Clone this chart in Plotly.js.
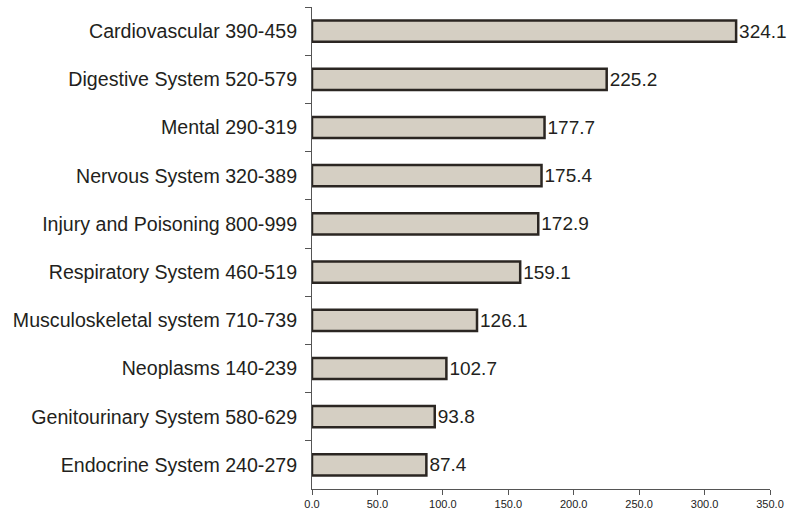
<!DOCTYPE html>
<html><head><meta charset="utf-8">
<script src="https://cdn.plot.ly/plotly-3.0.1.min.js"></script>
<style>html,body{margin:0;padding:0;background:#fff}#chart{width:789px;height:519px}</style>
</head><body><div id="chart"></div>
<script>
var categories = [
  "Cardiovascular 390-459",
  "Digestive System 520-579",
  "Mental 290-319",
  "Nervous System 320-389",
  "Injury and Poisoning 800-999",
  "Respiratory System 460-519",
  "Musculoskeletal system 710-739",
  "Neoplasms 140-239",
  "Genitourinary System 580-629",
  "Endocrine System 240-279"
];
var values = [324.1, 225.2, 177.7, 175.4, 172.9, 159.1, 126.1, 102.7, 93.8, 87.4];
var xTicks = [0, 50, 100, 150, 200, 250, 300, 350];

var trace = {
  type: "bar",
  orientation: "h",
  y: categories,
  x: values,
  width: 0.44,
  marker: {color: "#d5cfc3", line: {color: "#2b2622", width: 2.5}},
  text: values.map(function(v){return v.toFixed(1);}),
  textposition: "outside",
  cliponaxis: false,
  textfont: {family: "Liberation Sans, Arial, sans-serif", size: 19, color: "#231f20"},
  hoverinfo: "none"
};

var layout = {
  width: 789, height: 519,
  margin: {l: 312, r: 19, t: 7, b: 30},
  paper_bgcolor: "#fff", plot_bgcolor: "#fff",
  showlegend: false,
  bargap: 0.56,
  xaxis: {
    range: [0, 350],
    tickvals: xTicks,
    ticktext: xTicks.map(function(v){return v.toFixed(1);}),
    showgrid: false, zeroline: false,
    showline: true, linecolor: "#555", linewidth: 1,
    ticks: "outside", ticklen: 5, tickcolor: "#555",
    tickfont: {family: "Liberation Sans, Arial, sans-serif", size: 11, color: "#222"}
  },
  yaxis: {
    type: "category",
    autorange: "reversed",
    showgrid: false, zeroline: false,
    showline: true, linecolor: "#555", linewidth: 1,
    ticks: "outside", ticklen: 6, tickcolor: "#555",
    tickson: "boundaries",
    ticklabelstandoff: 10,
    tickfont: {family: "Liberation Sans, Arial, sans-serif", size: 19.6, color: "#231f20"}
  }
};

Plotly.newPlot("chart", [trace], layout, {displayModeBar: false, staticPlot: true});
</script></body></html>
